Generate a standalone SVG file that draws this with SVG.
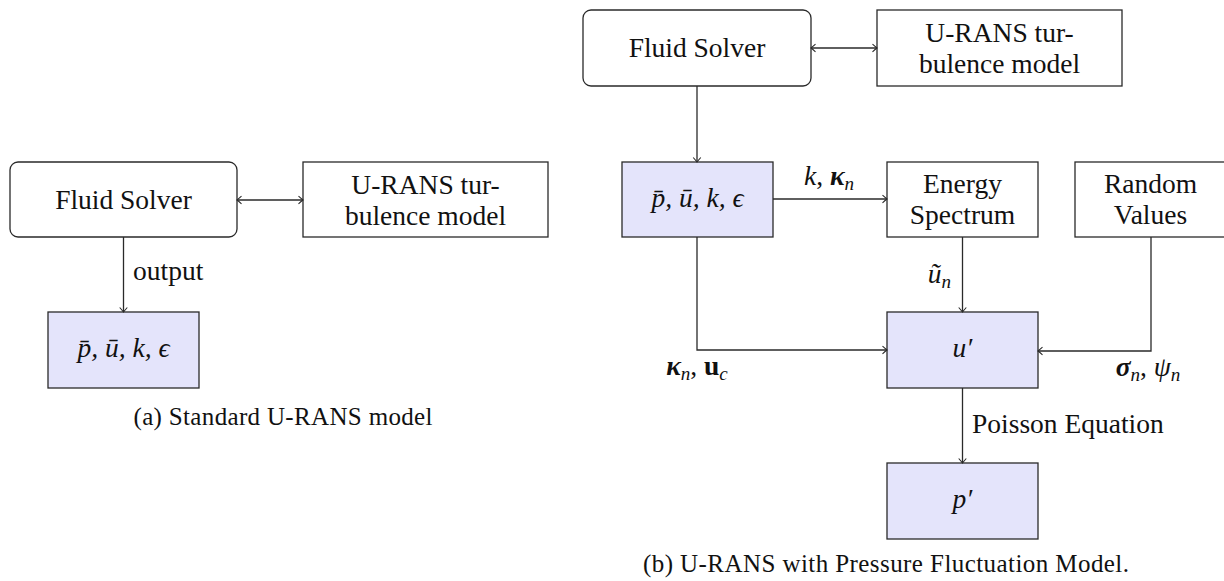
<svg xmlns="http://www.w3.org/2000/svg" width="1224" height="581" viewBox="0 0 1224 581">
  <style>
    .box { fill: #ffffff; stroke: #2a2a2a; stroke-width: 1.3; }
    .hl { fill: #e4e4fb; }
    .t { font-family: "Liberation Serif", "DejaVu Serif", serif; font-size: 27.5px; fill: #111; text-anchor: middle; }
    .st { text-anchor: start; }
    .en { text-anchor: end; }
    .cap { font-size: 25px; }
    .i { font-style: italic; }
    .bi { font-style: italic; font-weight: bold; }
    .b { font-weight: bold; }
    .sub { font-size: 19px; }
    .conn path { fill: none; stroke: #2a2a2a; stroke-width: 1.3; }
  </style>
  <defs>
    <marker id="ah" viewBox="-6 -5 7 10" refX="0" refY="0" markerWidth="7" markerHeight="10" markerUnits="userSpaceOnUse" orient="auto-start-reverse">
      <path d="M-4.5,-3.8 Q-1.6,-1.2 0,0 Q-1.6,1.2 -4.5,3.8" fill="none" stroke="#2a2a2a" stroke-width="1.1"/>
    </marker>
  </defs>

  <!-- (a) standard model -->
  <g id="a-solver">
    <rect class="box" x="10" y="162" width="227" height="75" rx="8"/>
    <text class="t" x="123.5" y="209">Fluid Solver</text>
  </g>
  <g id="a-turb">
    <rect class="box" x="303" y="162" width="245" height="75"/>
    <text class="t" x="425.5" y="194">U-RANS tur-</text>
    <text class="t" x="425.5" y="225">bulence model</text>
  </g>
  <g id="a-fields">
    <rect class="box hl" x="48" y="312" width="151" height="76"/>
    <text class="t i" x="123.5" y="357">p&#x304;, u&#x304;, k, &#x3F5;</text>
  </g>
  <text class="t cap" x="283" y="425" textLength="299">(a) Standard U-RANS model</text>

  <!-- (b) model with pressure fluctuations -->
  <g id="b-solver">
    <rect class="box" x="583" y="10" width="228" height="76" rx="8"/>
    <text class="t" x="697" y="57">Fluid Solver</text>
  </g>
  <g id="b-turb">
    <rect class="box" x="877" y="10" width="245" height="76"/>
    <text class="t" x="999.5" y="42">U-RANS tur-</text>
    <text class="t" x="999.5" y="73">bulence model</text>
  </g>
  <g id="b-fields">
    <rect class="box hl" x="622" y="162" width="151" height="75"/>
    <text class="t i" x="697.5" y="207">p&#x304;, u&#x304;, k, &#x3F5;</text>
  </g>
  <g id="b-spectrum">
    <rect class="box" x="887" y="162" width="151" height="75"/>
    <text class="t" x="962.5" y="193">Energy</text>
    <text class="t" x="962.5" y="224">Spectrum</text>
  </g>
  <g id="b-random">
    <rect class="box" x="1075" y="162" width="151" height="75"/>
    <text class="t" x="1150.5" y="193">Random</text>
    <text class="t" x="1150.5" y="224">Values</text>
  </g>
  <g id="b-velocity">
    <rect class="box hl" x="887" y="312" width="151" height="76"/>
    <text class="t i" x="962.5" y="357">u&#x2032;</text>
  </g>
  <g id="b-pressure">
    <rect class="box hl" x="887" y="463" width="151" height="76"/>
    <text class="t i" x="962.5" y="508">p&#x2032;</text>
  </g>
  <text class="t cap" x="886" y="572" textLength="486">(b) U-RANS with Pressure Fluctuation Model.</text>

  <!-- connectors -->
  <g class="conn" id="connectors">
    <path d="M237,200 H303" marker-start="url(#ah)" marker-end="url(#ah)"/>
    <path d="M123.5,237 V312" marker-end="url(#ah)"/>
    <path d="M811,48 H877" marker-start="url(#ah)" marker-end="url(#ah)"/>
    <path d="M697,86 V162" marker-end="url(#ah)"/>
    <path d="M773,199 H887" marker-end="url(#ah)"/>
    <path d="M962.5,237 V312" marker-end="url(#ah)"/>
    <path d="M697,237 V350 H887" marker-end="url(#ah)"/>
    <path d="M1151,237 V351 H1038" marker-end="url(#ah)"/>
    <path d="M962.5,388 V463" marker-end="url(#ah)"/>
  </g>

  <!-- connector labels -->
  <text class="t st" x="133" y="280">output</text>
  <text class="t" x="829" y="185"><tspan class="i">k</tspan>, <tspan class="bi">&#x3BA;</tspan><tspan class="i sub" dy="5">n</tspan></text>
  <text class="t en" x="951" y="283"><tspan class="i">&#x169;</tspan><tspan class="i sub" dy="5">n</tspan></text>
  <text class="t" x="697" y="375"><tspan class="bi">&#x3BA;</tspan><tspan class="i sub" dy="5">n</tspan><tspan dy="-5">, </tspan><tspan class="b">u</tspan><tspan class="i sub" dy="5">c</tspan></text>
  <text class="t" x="1148" y="376"><tspan class="bi">&#x3C3;</tspan><tspan class="i sub" dy="5">n</tspan><tspan dy="-5">, </tspan><tspan class="i">&#x3C8;</tspan><tspan class="i sub" dy="5">n</tspan></text>
  <text class="t st" x="972" y="433">Poisson Equation</text>
</svg>
